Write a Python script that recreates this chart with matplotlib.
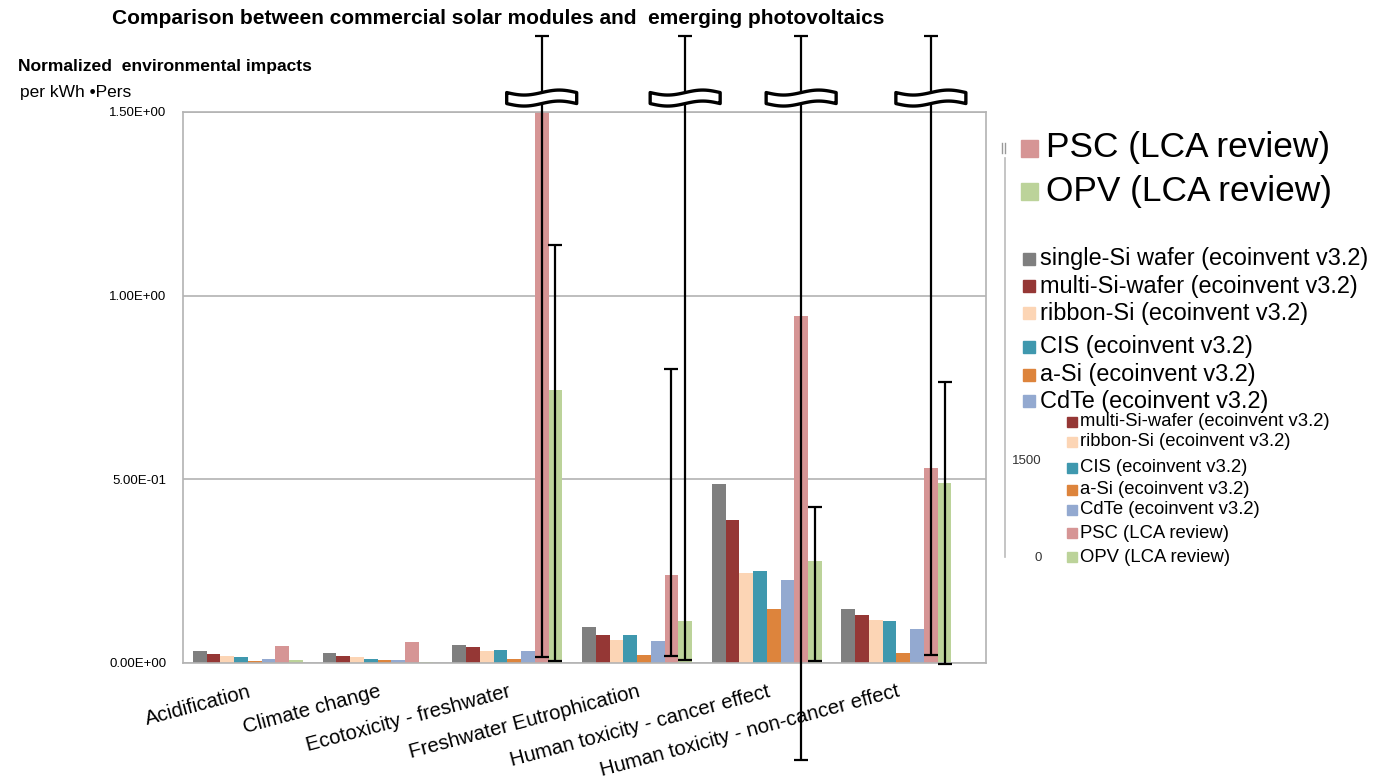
import matplotlib
matplotlib.use('Agg')
import matplotlib.pyplot as plt
import numpy as np
from matplotlib.patches import Rectangle, PathPatch
from matplotlib.path import Path
from matplotlib.transforms import ScaledTranslation

plt.rcParams['font.family'] = ['Liberation Sans', 'DejaVu Sans']

# impact categories and series
categories = ['Acidification', 'Climate change', 'Ecotoxicity - freshwater',
              'Freshwater Eutrophication', 'Human toxicity - cancer effect',
              'Human toxicity - non-cancer effect']
series_names = ['single-Si wafer (ecoinvent v3.2)', 'multi-Si-wafer (ecoinvent v3.2)',
                'ribbon-Si (ecoinvent v3.2)', 'CIS (ecoinvent v3.2)',
                'a-Si (ecoinvent v3.2)', 'CdTe (ecoinvent v3.2)',
                'PSC (LCA review)', 'OPV (LCA review)']
colors = ['#7f7f7f', '#953735', '#fcd5b5', '#3f98ae',
          '#dd843c', '#93a9d0', '#d69595', '#bcd39a']

single_si = [0.031, 0.026, 0.047, 0.098, 0.487, 0.145]
multi_si = [0.022, 0.017, 0.041, 0.074, 0.389, 0.130]
ribbon_si = [0.018, 0.014, 0.032, 0.062, 0.244, 0.116]
cis = [0.016, 0.010, 0.033, 0.074, 0.250, 0.113]
a_si = [0.005, 0.006, 0.010, 0.020, 0.146, 0.027]
cdte = [0.009, 0.006, 0.031, 0.059, 0.224, 0.092]
psc = [0.046, 0.056, 1.50, 0.239, 0.945, 0.531]
opv = [0.006, 0.002, 0.742, 0.113, 0.277, 0.490]

# error ranges (upper ends above 1.5 are drawn cut with a break mark)
psc_low = [np.nan, np.nan, 0.014, 0.018, -0.266, 0.020]
psc_high = [np.nan, np.nan, 1.706, 0.800, 1.706, 1.706]
opv_low = [np.nan, np.nan, 0.004, 0.007, 0.004, -0.004]
opv_high = [np.nan, np.nan, 1.138, 1.706, 0.424, 0.763]

yticks = [0.0, 0.5, 1.0, 1.5]

W, H = 1378, 779
fig = plt.figure(figsize=(W / 100, H / 100), dpi=100)


def fx(x):
    return x / W


def fy(y):
    return 1 - y / H


ax = fig.add_axes([fx(183), fy(662.5), (986 - 183) / W, (662.5 - 112) / H])

all_vals = [single_si, multi_si, ribbon_si, cis, a_si, cdte, psc, opv]
x = np.arange(len(categories))
bw = 0.106
for i, (vals, c) in enumerate(zip(all_vals, colors)):
    ax.bar(x + (i - 3.5) * bw, vals, width=bw, color=c, zorder=2)

# error bars for PSC and OPV
for vals, lo, hi, off in [(psc, psc_low, psc_high, 2.5), (opv, opv_low, opv_high, 3.5)]:
    vals = np.array(vals)
    lo = np.array(lo)
    hi = np.array(hi)
    m = ~np.isnan(lo)
    cont = ax.errorbar(x[m] + off * bw, vals[m], yerr=[vals[m] - lo[m], hi[m] - vals[m]],
                       fmt='none', ecolor='black', elinewidth=1.6, capsize=5,
                       capthick=1.6, zorder=5)
    for art in list(cont.lines[1]) + list(cont.lines[2]):
        art.set_clip_on(False)
    # break marks for cut error bars
    for xi, h in zip(x[m] + off * bw, hi[m]):
        if h > 1.5:
            t = np.linspace(0, 1, 30)
            top = np.column_stack([-35 + 70 * t, 5.5 - 2.5 * np.sin(2 * np.pi * t)])
            bot = np.column_stack([35 - 70 * t, -5.5 - 2.5 * np.sin(2 * np.pi * (1 - t))])
            verts = np.vstack([top, bot, top[:1]]) / 100.0
            codes = [Path.MOVETO] + [Path.LINETO] * (len(verts) - 2) + [Path.CLOSEPOLY]
            tr = fig.dpi_scale_trans + ScaledTranslation(xi, 1.538, ax.transData)
            patch = PathPatch(Path(verts, codes), facecolor='white', edgecolor='black',
                              linewidth=2.4, joinstyle='round', transform=tr,
                              clip_on=False, zorder=6)
            ax.add_artist(patch)

ax.set_xlim(-0.5, 5.69)
ax.set_ylim(0, 1.5)
ax.set_yticks(yticks)
ax.set_yticklabels([f'{v:.2E}' for v in yticks], fontsize=9.5)
ax.tick_params(axis='y', length=0, pad=12)
ax.set_xticks(x)
ax.set_xticklabels(categories, rotation=15, ha='right', rotation_mode='anchor', fontsize=14.7)
ax.tick_params(axis='x', length=0, pad=14)
ax.grid(axis='y', color='#b3b3b3', linewidth=1.2, zorder=0)
ax.set_axisbelow(True)
for s in ax.spines.values():
    s.set_color('#b3b3b3')
    s.set_linewidth(1.2)

fig.text(fx(498), fy(18), 'Comparison between commercial solar modules and  emerging photovoltaics',
         ha='center', va='center', fontsize=15, fontweight='bold')
fig.text(fx(18), fy(67), 'Normalized  environmental impacts', ha='left', va='center',
         fontsize=12.6, fontweight='bold')
fig.text(fx(20), fy(93), 'per kWh \u2022Pers', ha='left', va='center', fontsize=12.5)

# leftover secondary axis from the pasted chart
fig.add_artist(plt.Line2D([fx(1005), fx(1005)], [fy(158), fy(557)], color='#bbbbbb',
                          linewidth=1.2, transform=fig.transFigure))
fig.add_artist(plt.Line2D([fx(1002), fx(1002)], [fy(143), fy(153)], color='#999999',
                          linewidth=1, transform=fig.transFigure))
fig.add_artist(plt.Line2D([fx(1005), fx(1005)], [fy(143), fy(153)], color='#999999',
                          linewidth=1, transform=fig.transFigure))
fig.text(fx(1042), fy(461), '1500', ha='right', va='center', fontsize=9.5, color='#333333')
fig.text(fx(1042), fy(558), '0', ha='right', va='center', fontsize=9.5, color='#333333')


def legend_rows(names, cols, ys, xsq, sq, xtxt, size):
    for n, c, y in zip(names, cols, ys):
        fig.add_artist(Rectangle((fx(xsq), fy(y + sq / 2)), sq / W, sq / H,
                                 transform=fig.transFigure, color=c))
        fig.text(fx(xtxt), fy(y), n, ha='left', va='center', fontsize=size)


# big legend (emerging PV)
legend_rows(series_names[6:], colors[6:], [148, 191], 1021, 17, 1046, 25.4)
# medium legend (commercial modules)
legend_rows(series_names[:6], colors[:6], [259, 286, 313, 347, 375, 401], 1023, 12, 1040, 16.9)
# small legend (original chart)
legend_rows(series_names[1:], colors[1:], [422, 442, 468, 490, 510, 533, 557], 1067, 10, 1080, 13.3)

fig.savefig('out.png', dpi=100)
